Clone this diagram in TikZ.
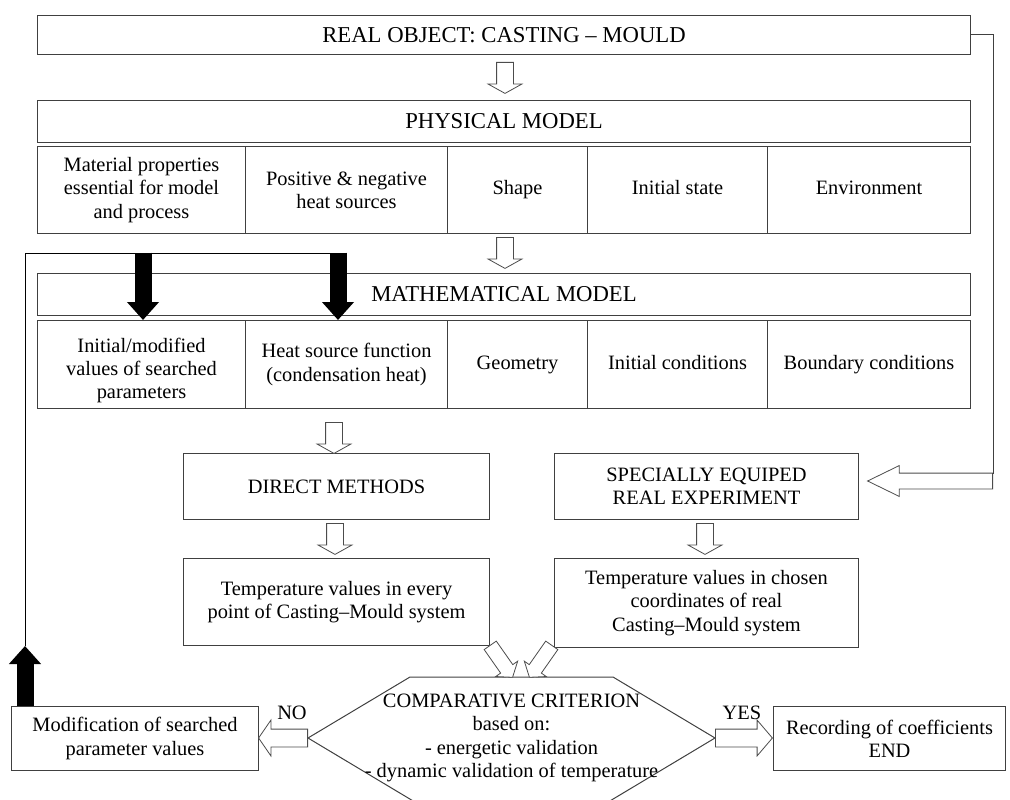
\documentclass[tikz,border=0pt]{standalone}
\usepackage{fontspec}
\setmainfont{Liberation Serif}
\usetikzlibrary{shapes.arrows,arrows.meta,calc}
\begin{document}
\begin{tikzpicture}[x=1pt,y=-1pt,line join=miter,
  box/.style={draw=black!75,line width=1pt,align=center,inner sep=2pt,anchor=north west},
  big/.style={font=\fontsize{22.7}{26}\selectfont},
  harrow/.style={single arrow,draw=black!70,line width=0.8pt,fill=white,inner sep=0pt,anchor=tail,
    text height=16pt,text depth=0pt,single arrow head extend=8.5pt,single arrow tip angle=122,
    minimum height=31pt},
  blk/.style={line width=17pt,-{Triangle[width=31pt,length=18pt]}}]
\tikzset{every node/.style={font=\fontsize{20.4}{23.3}\selectfont}}
\useasboundingbox (0,0) rectangle (1010,800);
\clip (0,0) rectangle (1010,800);
% real object and physical model
\node[box,big,minimum width=933pt,minimum height=39pt] (real) at (37,15) {REAL OBJECT: CASTING -- MOULD};
\node[box,big,minimum width=933pt,minimum height=42pt] (phys) at (37,100) {PHYSICAL MODEL};
\foreach \x/\w/\n/\t in {37/208/pa/{Material properties\\essential for model\\and process},
  245/202/pb/{Positive \& negative\\heat sources}, 447/140/pc/{\strut Shape},
  587/180/pd/{\strut Initial state}, 767/203/pe/{\strut Environment}}
  \node[box,minimum width=\w pt,minimum height=87pt] (\n) at (\x,146) {\t};
% mathematical model
\node[box,big,minimum width=933pt,minimum height=42pt] (math) at (37,273) {MATHEMATICAL MODEL};
\foreach \x/\w/\n/\t in {37/208/ma/{\rule{0pt}{26pt}Initial/modified\\values of searched\\parameters},
  245/202/mb/{Heat source function\\(condensation heat)}, 447/140/mc/{\strut Geometry},
  587/180/md/{\strut Initial conditions}, 767/203/me/{\strut Boundary conditions}}
  \node[box,minimum width=\w pt,minimum height=88pt] (\n) at (\x,320) {\t};
% methods and experiment
\node[box,minimum width=306pt,minimum height=66pt] (direct) at (183,453) {DIRECT METHODS};
\node[box,minimum width=304pt,minimum height=66pt] (exper) at (554,453) {SPECIALLY EQUIPED\\REAL EXPERIMENT};
\node[box,minimum width=306pt,minimum height=87pt] (tcalc) at (183,558) {Temperature values in every\\point of Casting--Mould system};
\node[box,minimum width=304pt,minimum height=89pt] (tmeas) at (554,558) {Temperature values in chosen\\coordinates of real\\Casting--Mould system};
\node[box,minimum width=247pt,minimum height=64pt] (modif) at (11,706) {Modification of searched\\parameter values};
\node[box,minimum width=232pt,minimum height=64pt] (record) at (773,706) {Recording of coefficients\\END};
% criterion
\draw[draw=black!75,line width=1pt] (410,677) -- (613,677) -- (715,738) coordinate (hr)
  -- (609,801.5) -- (414,801.5) -- (308,738) coordinate (hl) -- cycle;
\node[align=center] (crit) at (511.5,738) {COMPARATIVE CRITERION\\based on:\\- energetic validation\\- dynamic validation of temperature};
\node (no) at (292,713) {NO};
\node (yes) at (742,713) {YES};
% hollow arrows
\foreach \p/\n in {{(505,62)}/a1,{(505,237)}/a2,{(334,422)}/a3,{(335,523)}/a4,{(705,523)}/a5}
  \node[harrow,rotate=-90] (\n) at \p {};
\node[harrow,rotate=-55,minimum height=39pt,text height=14pt,single arrow head extend=6pt,
  single arrow tip angle=105] (d1) at (490,645) {};
\node[harrow,rotate=-125,minimum height=39pt,text height=14pt,single arrow head extend=6pt,
  single arrow tip angle=105] (d2) at (552,645) {};
\node[harrow,rotate=180,minimum height=49pt,text height=17pt,single arrow head extend=9pt,
  single arrow tip angle=111] (noarr) at (hl) {};
\node[harrow,minimum height=57pt,text height=17pt,single arrow head extend=9pt,
  single arrow tip angle=99] (yesarr) at (hr) {};
\node[harrow,rotate=180,minimum height=125pt,text height=15pt,single arrow head extend=7.5pt,
  single arrow tip angle=52] (exparr) at (993,481) {};
% loop to experiment
\draw[black!75,line width=1pt] (real.east) -| ($(exparr.tail)+(0,-7.5)$);
% feedback loop
\coordinate (k1) at (143,252.5);
\coordinate (k2) at (338,252.5);
\coordinate (fb) at (25,253);
\coordinate (up) at (25,646);
\draw[blk] (k1) -- (k1 |- ma.north);
\draw[blk] (k2) -- (k2 |- mb.north);
\draw[blk] (modif.north -| up) -- (up);
\draw[line width=0.8pt] (up) -- (fb) -- (k2 |- fb);
\end{tikzpicture}
\end{document}
